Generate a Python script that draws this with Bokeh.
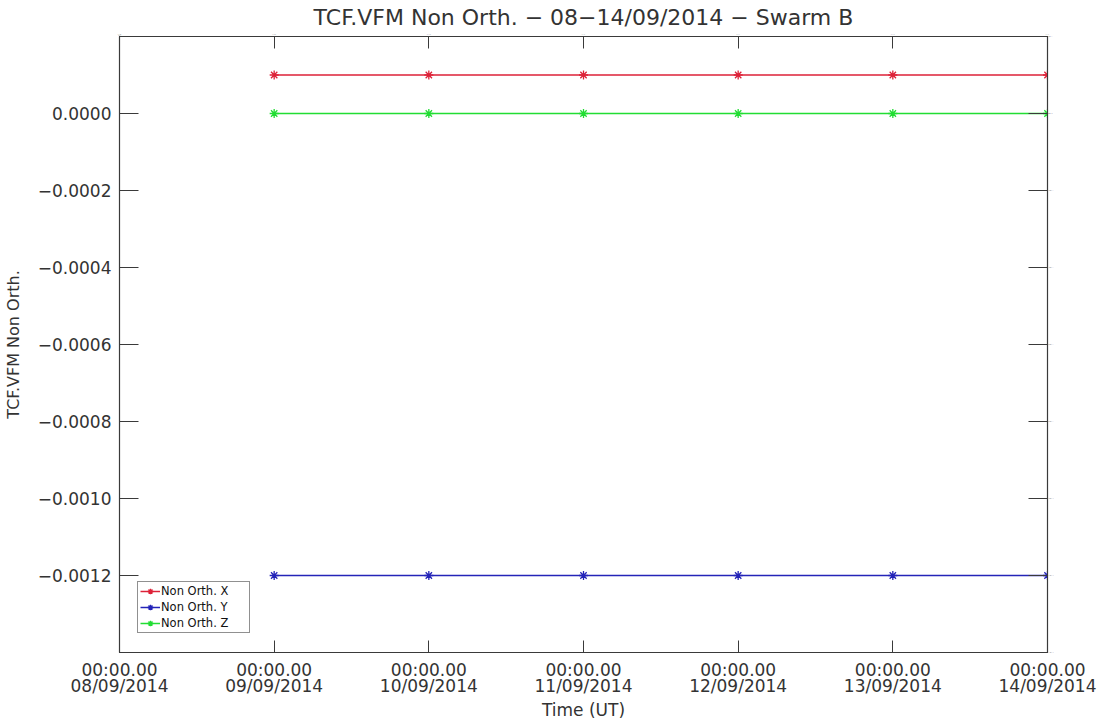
import pandas as pd
from bokeh.plotting import figure
from bokeh.models import (FixedTicker, LinearAxis, DatetimeAxis, Range1d,
                          Legend, LegendItem, ColumnDataSource)
from bokeh.embed import file_html
from bokeh.resources import INLINE

# Daily VFM non-orthogonality parameters, Swarm B
dates = ["2014-09-09", "2014-09-10", "2014-09-11", "2014-09-12",
         "2014-09-13", "2014-09-14"]
non_orth_x = [0.0001, 0.0001, 0.0001, 0.0001, 0.0001, 0.0001]
non_orth_y = [-0.0012, -0.0012, -0.0012, -0.0012, -0.0012, -0.0012]
non_orth_z = [0.0, 0.0, 0.0, 0.0, 0.0, 0.0]

tick_dates = ["2014-09-08", "2014-09-09", "2014-09-10", "2014-09-11",
              "2014-09-12", "2014-09-13", "2014-09-14"]
tick_labels = ["00:00.00\n08/09/2014", "00:00.00\n09/09/2014",
               "00:00.00\n10/09/2014", "00:00.00\n11/09/2014",
               "00:00.00\n12/09/2014", "00:00.00\n13/09/2014",
               "00:00.00\n14/09/2014"]
y_ticks = [-0.0014, -0.0012, -0.0010, -0.0008, -0.0006, -0.0004, -0.0002,
           0.0, 0.0002]
y_tick_labels = ["", "\u22120.0012", "\u22120.0010", "\u22120.0008",
                 "\u22120.0006", "\u22120.0004", "\u22120.0002", "0.0000", ""]

FONT = "DejaVu Sans"
TEXT = "#333333"
AXIS = "#3a3a3a"

x = pd.to_datetime(dates)
tick_ms = [pd.Timestamp(d).value / 1e6 for d in tick_dates]

p = figure(width=1117, height=722, output_backend="svg", toolbar_location=None,
           x_axis_type="datetime",
           x_range=Range1d(tick_ms[0], tick_ms[-1]),
           y_range=Range1d(-0.0014, 0.0002),
           min_border_left=118, min_border_right=70,
           min_border_top=36, min_border_bottom=69)

p.title.text = "TCF.VFM Non Orth. \u2212 08\u221214/09/2014 \u2212 Swarm B"
p.title.align = "center"
p.title.text_font = FONT
p.title.text_font_style = "normal"
p.title.text_font_size = "22px"
p.title.text_color = TEXT
p.title.offset = 0
p.title.standoff = 1

p.grid.visible = False
p.background_fill_color = "white"
p.border_fill_color = "white"
p.outline_line_color = AXIS
p.outline_line_width = 1.2

xticker = FixedTicker(ticks=tick_ms)
yticker = FixedTicker(ticks=y_ticks)
x_over = {t: lab for t, lab in zip(tick_ms, tick_labels)}
y_over = {t: lab for t, lab in zip(y_ticks, y_tick_labels)}


def style(ax, tick_in):
    ax.axis_line_color = AXIS
    ax.major_tick_line_color = AXIS
    ax.major_tick_in = tick_in
    ax.major_tick_out = 0
    ax.minor_tick_line_color = None
    ax.major_label_text_font = FONT
    ax.major_label_text_font_size = "17px"
    ax.major_label_text_color = TEXT
    ax.axis_label_text_font = FONT
    ax.axis_label_text_font_style = "normal"
    ax.axis_label_text_color = TEXT


xa = p.xaxis[0]
xa.ticker = xticker
xa.major_label_overrides = x_over
xa.major_label_standoff = 7
xa.axis_label = "Time (UT)"
xa.axis_label_text_font_size = "17px"
xa.axis_label_standoff = 1
style(xa, 12)
xa.major_label_text_line_height = 0.8

ya = p.yaxis[0]
ya.ticker = yticker
ya.major_label_overrides = y_over
ya.major_label_standoff = 8
ya.axis_label = "TCF.VFM Non Orth."
ya.axis_label_text_font_size = "16px"
ya.axis_label_standoff = 12
style(ya, 19)

top = DatetimeAxis(ticker=xticker, major_label_text_color=None)
style(top, 12)
top.major_label_text_font_size = "1px"
top.major_label_standoff = 0
p.add_layout(top, "above")

right = LinearAxis(ticker=yticker, major_label_text_color=None)
style(right, 19)
right.major_label_text_font_size = "1px"
right.major_label_standoff = 0
p.add_layout(right, "right")

series = [("Non Orth. X", non_orth_x, "#dd2238"),
          ("Non Orth. Y", non_orth_y, "#2424b8"),
          ("Non Orth. Z", non_orth_z, "#22dd33")]

items = []
for name, vals, color in series:
    src = ColumnDataSource(dict(x=x, y=vals))
    ln = p.line("x", "y", source=src, line_color=color, line_width=1.5)
    mk = p.scatter("x", "y", source=src, marker="asterisk", size=9,
                   line_color=color, line_width=1.3)
    items.append(LegendItem(label=name, renderers=[ln, mk]))

legend = Legend(items=items, location=(18, 19))
legend.label_text_font = FONT
legend.label_text_font_size = "11.5px"
legend.label_text_color = "#111111"
legend.glyph_width = 20
legend.glyph_height = 14
legend.label_height = 14
legend.label_width = 86
legend.label_standoff = 1
legend.spacing = 2
legend.padding = 2
legend.margin = 0
legend.border_line_color = "#222222"
legend.border_line_width = 1.2
legend.background_fill_alpha = 1
p.add_layout(legend, "center")

open("out.html", "w").write(file_html(p, INLINE))
